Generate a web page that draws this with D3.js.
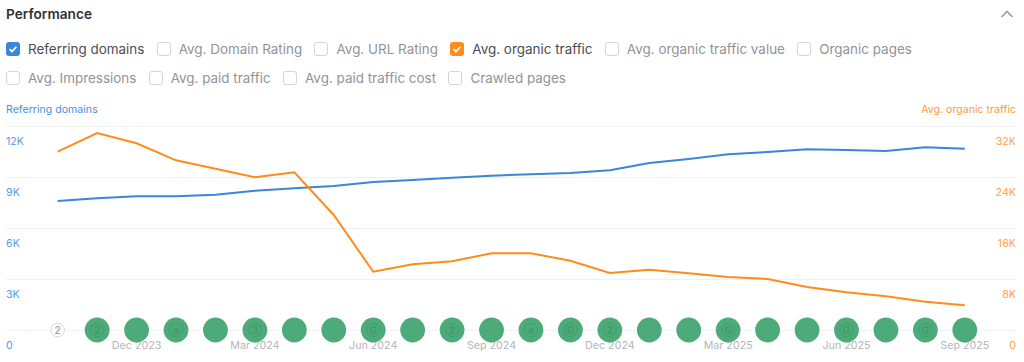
<!DOCTYPE html>
<html>
<head>
<meta charset="utf-8">
<script src="https://cdn.jsdelivr.net/npm/d3@7"></script>
<style>
  html, body { margin: 0; padding: 0; background: #fff; overflow: hidden; }
  body { width: 1024px; height: 362px; position: relative; font-family: Inter, "Noto Sans", sans-serif; }
  .title { position: absolute; left: 6px; top: 5px; font-size: 13.7px; font-weight: 600; line-height: 18px; color: #2f3237; }
  .metrics { position: absolute; left: 6px; top: 40px; width: 1000px; display: flex; flex-wrap: wrap; column-gap: 12.3px; row-gap: 11px; }
  .metric { display: flex; align-items: center; height: 18px; font-size: 13.45px; color: #919397; }
  .metric .box { width: 12px; height: 12px; border: 1px solid #d4d5d8; border-radius: 3px; margin-right: 8px; box-sizing: content-box; position: relative; }
  .metric.on { color: #4a4d53; }
  .metric.on .box { border-color: transparent; }
  svg.chart { position: absolute; left: 0; top: 0; }
</style>
</head>
<body>
<script>
// Performance panel: referring domains vs avg. organic traffic

const metricLabels = [
  "Referring domains", "Avg. Domain Rating", "Avg. URL Rating", "Avg. organic traffic",
  "Avg. organic traffic value", "Organic pages", "Avg. Impressions", "Avg. paid traffic",
  "Avg. paid traffic cost", "Crawled pages"
];
const metricColors = { "Referring domains": "#3a86d8", "Avg. organic traffic": "#ff8c1a" };

const months = [
  "Oct 2023", "Nov 2023", "Dec 2023", "Jan 2024", "Feb 2024", "Mar 2024",
  "Apr 2024", "May 2024", "Jun 2024", "Jul 2024", "Aug 2024", "Sep 2024",
  "Oct 2024", "Nov 2024", "Dec 2024", "Jan 2025", "Feb 2025", "Mar 2025",
  "Apr 2025", "May 2025", "Jun 2025", "Jul 2025", "Aug 2025", "Sep 2025"
];
const referringDomains = [
  7590, 7750, 7865, 7865, 7960, 8195, 8335, 8470, 8705, 8825, 8960, 9075,
  9160, 9235, 9395, 9825, 10060, 10335, 10470, 10630, 10590, 10530, 10745, 10665
];
const organicTraffic = [
  27970, 30900, 29285, 26620, 25300, 23950, 24735, 18040, 9145, 10305, 10775, 12030,
  12030, 10870, 8940, 9460, 8895, 8315, 8000, 6745, 5915, 5285, 4440, 3875
];
// letter shown in each update marker ("" = none)
const markerGlyphs = [
  "2", "2", "", "a", "", "3", "", "", "G", "", "2", "",
  "a", "G", "2", "", "", "G", "", "", "G", "", "G", ""
];
const monthTicks = ["Dec 2023", "Mar 2024", "Jun 2024", "Sep 2024", "Dec 2024", "Mar 2025", "Jun 2025", "Sep 2025"];
const leftTicks = [0, 3000, 6000, 9000, 12000];
const rightTicks = [0, 8000, 16000, 24000, 32000];

const W = 1024, H = 362;
const plotLeft = 6, plotRight = 1016, plotTop = 126, plotBottom = 330;

d3.select("body").append("div").attr("class", "title").text("Performance");

// collapse chevron, top right
d3.select("body").append("svg").attr("width", 14).attr("height", 10)
  .style("position", "absolute").style("left", "1000px").style("top", "9px")
  .append("path").attr("d", "M1.5 8 L7 2.5 L12.5 8")
  .attr("fill", "none").attr("stroke", "#9a9ca0").attr("stroke-width", 1.6);

const rows = d3.select("body").append("div").attr("class", "metrics")
  .selectAll(".metric").data(metricLabels).enter().append("div")
  .attr("class", (d) => (metricColors[d] ? "metric on" : "metric"));

const boxes = rows.append("span").attr("class", "box")
  .style("background", (d) => metricColors[d] || "#fff");
boxes.filter((d) => metricColors[d])
  .append("svg").attr("width", 14).attr("height", 14)
  .style("position", "absolute").style("left", "-1px").style("top", "-1px")
  .append("path").attr("d", "M3.6 7.2 L6 9.6 L10.4 4.8")
  .attr("fill", "none").attr("stroke", "#fff").attr("stroke-width", 1.7);
rows.append("span").text((d) => d);

const svg = d3.select("body").append("svg").attr("class", "chart").attr("width", W).attr("height", H);

const x = d3.scalePoint().domain(months).range([57.7, 964.8]);
const yLeft = d3.scaleLinear().domain([0, 12000]).range([plotBottom, plotTop]);
const yRight = d3.scaleLinear().domain([0, 32000]).range([plotBottom, plotTop]);

// axis captions
svg.append("text").attr("x", 6).attr("y", 113).attr("font-size", 10.6)
  .attr("fill", "#4a90e2").text("Referring domains");
svg.append("text").attr("x", 1016).attr("y", 113).attr("font-size", 10.6)
  .attr("text-anchor", "end").attr("fill", "#ff9a3c").text("Avg. organic traffic");

const fmtK = (d) => (d === 0 ? "0" : `${d / 1000}K`);

// left axis also draws the grid lines
const leftAxis = svg.append("g")
  .attr("transform", `translate(${plotLeft},0)`)
  .call(d3.axisRight(yLeft).tickValues(leftTicks).tickFormat(fmtK).tickSize(plotRight - plotLeft));
leftAxis.select(".domain").remove();
leftAxis.selectAll("line").attr("stroke", "#f0f0f1").attr("stroke-width", 1);
leftAxis.selectAll("line").filter((d) => d === 0).attr("stroke", "#eeeeee").attr("stroke-dasharray", "2,1");
leftAxis.selectAll("text").attr("x", 0).attr("dy", 18).attr("text-anchor", "start")
  .attr("font-size", 10.7).attr("font-family", "Inter").attr("fill", "#5a9be6");

const rightAxis = svg.append("g")
  .attr("transform", `translate(${plotRight},0)`)
  .call(d3.axisLeft(yRight).tickValues(rightTicks).tickFormat(fmtK).tickSize(0));
rightAxis.select(".domain").remove();
rightAxis.selectAll("text").attr("x", 0).attr("dy", 18).attr("text-anchor", "end")
  .attr("font-size", 10.7).attr("font-family", "Inter").attr("fill", "#ffa24d");

const bottomAxis = svg.append("g")
  .attr("transform", `translate(0,${plotBottom})`)
  .call(d3.axisBottom(x).tickValues(monthTicks).tickSize(0));
bottomAxis.select(".domain").remove();
bottomAxis.selectAll("text").attr("x", -0.5).attr("y", 18.5).attr("dy", 0)
  .attr("font-size", 10.7).attr("font-family", "Inter").attr("fill", "#b4b5b9");

// lines
const lineOf = (values, y) => d3.line().x((d, i) => x(months[i])).y((d) => y(d))(values);
svg.append("path").attr("d", lineOf(referringDomains, yLeft))
  .attr("fill", "none").attr("stroke", "#3a86d8").attr("stroke-width", 2);
svg.append("path").attr("d", lineOf(organicTraffic, yRight))
  .attr("fill", "none").attr("stroke", "#ff8c1a").attr("stroke-width", 2);

// update markers along the baseline
const markers = svg.selectAll(".marker").data(markerGlyphs).enter().append("g")
  .attr("class", "marker")
  .attr("transform", (d, i) => `translate(${x(months[i])},${plotBottom})`);

markers.filter((d, i) => i > 0).append("circle").attr("r", 12.4).attr("fill", "#4cab78");
const first = markers.filter((d, i) => i === 0);
first.append("circle").attr("r", 6.8).attr("fill", "#fff").attr("stroke", "#d6d7d9");
first.append("text").attr("text-anchor", "middle").attr("y", 3.5).attr("font-size", 10)
  .attr("font-weight", 600).attr("fill", "#a8a9ad").text((d) => d);

const tagged = markers.filter((d, i) => i > 0 && d !== "");
tagged.append("circle").attr("r", 6.6).attr("fill", "none").attr("stroke", "#429d6c").attr("stroke-width", 1);
tagged.append("text").attr("text-anchor", "middle").attr("y", 3.5).attr("font-size", 10)
  .attr("font-weight", 700).attr("fill", "#3f9a69").text((d) => d);
</script>
</body>
</html>
